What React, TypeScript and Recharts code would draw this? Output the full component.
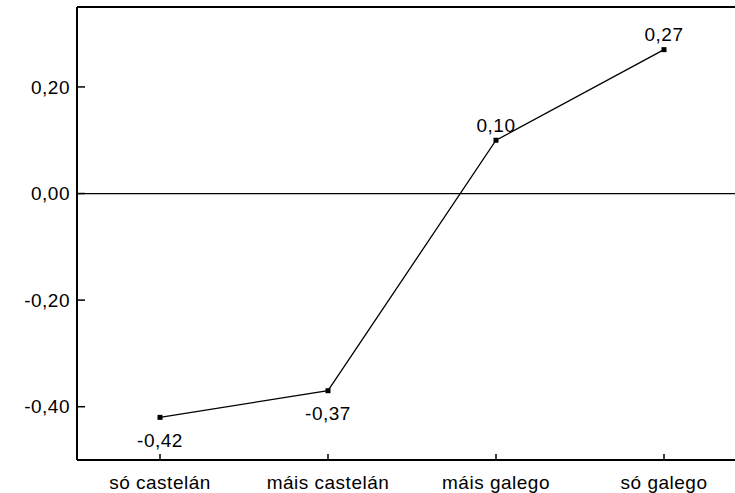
import { LineChart, Line, XAxis, YAxis, ReferenceLine, LabelList } from 'recharts';

const categories = ['só castelán', 'máis castelán', 'máis galego', 'só galego'];
const means = [-0.42, -0.37, 0.1, 0.27];
const yTicks = [-0.4, -0.2, 0, 0.2];
const yMin = -0.5;
const yMax = 0.35;

const data = categories.map((name, i) => ({ name, value: means[i] }));

const FONT = '"Liberation Sans", Arial, sans-serif';
const fmt = (v: number) => v.toFixed(2).replace('.', ',');

function YTick({ x, y, payload }: any) {
  return (
    <g>
      <line x1={x} x2={x + 8} y1={y} y2={y} stroke="#000" strokeWidth={1.5} />
      <text x={x - 7} y={y} dy="0.35em" textAnchor="end" fontFamily={FONT} fontSize={19} letterSpacing={0.5} fill="#000">
        {fmt(payload.value)}
      </text>
    </g>
  );
}

function XTick({ x, y, payload }: any) {
  return (
    <g>
      <line x1={x} x2={x} y1={y} y2={y - 6} stroke="#000" strokeWidth={1.5} />
      <text x={x} y={y + 22} dy="0.35em" textAnchor="middle" fontFamily={FONT} fontSize={19} letterSpacing={0.5} fill="#000">
        {payload.value}
      </text>
    </g>
  );
}

function SquareDot({ cx, cy }: any) {
  return <rect x={cx - 2.5} y={cy - 2.5} width={5} height={5} fill="#000" />;
}

function ValueLabel({ x, y, value }: any) {
  const above = value >= 0;
  return (
    <text
      x={x}
      y={above ? y - 15 : y + 23}
      dy="0.35em"
      textAnchor="middle"
      fontFamily={FONT}
      fontSize={19}
      letterSpacing={0.5}
      fill="#000"
    >
      {fmt(value)}
    </text>
  );
}

export default function App() {
  return (
    <div style={{ position: 'absolute', top: 0, left: 0, width: 735, height: 493, background: '#fff' }}>
      <LineChart width={735} height={493} data={data} margin={{ top: 6, right: 0, left: 0, bottom: 0 }}>
        <XAxis
          xAxisId="top"
          dataKey="name"
          orientation="top"
          height={1}
          tick={false}
          tickLine={false}
          axisLine={{ stroke: '#000', strokeWidth: 2 }}
        />
        <XAxis
          dataKey="name"
          scale="point"
          padding={{ left: 83, right: 71 }}
          height={33}
          tickSize={0}
          tickMargin={0}
          tickLine={false}
          axisLine={{ stroke: '#000', strokeWidth: 2 }}
          tick={<XTick />}
          interval={0}
        />
        <YAxis
          domain={[yMin, yMax]}
          ticks={yTicks}
          allowDataOverflow
          width={77}
          tickSize={0}
          tickMargin={0}
          tickLine={false}
          axisLine={{ stroke: '#000', strokeWidth: 2 }}
          tick={<YTick />}
        />
        <ReferenceLine y={yMax} stroke="#000" strokeWidth={2} ifOverflow="visible" />
        <ReferenceLine y={0} stroke="#000" strokeWidth={1.2} />
        <Line
          type="linear"
          dataKey="value"
          stroke="#000"
          strokeWidth={1.3}
          dot={<SquareDot />}
          activeDot={false}
          isAnimationActive={false}
        >
          <LabelList dataKey="value" content={<ValueLabel />} />
        </Line>
      </LineChart>
    </div>
  );
}
